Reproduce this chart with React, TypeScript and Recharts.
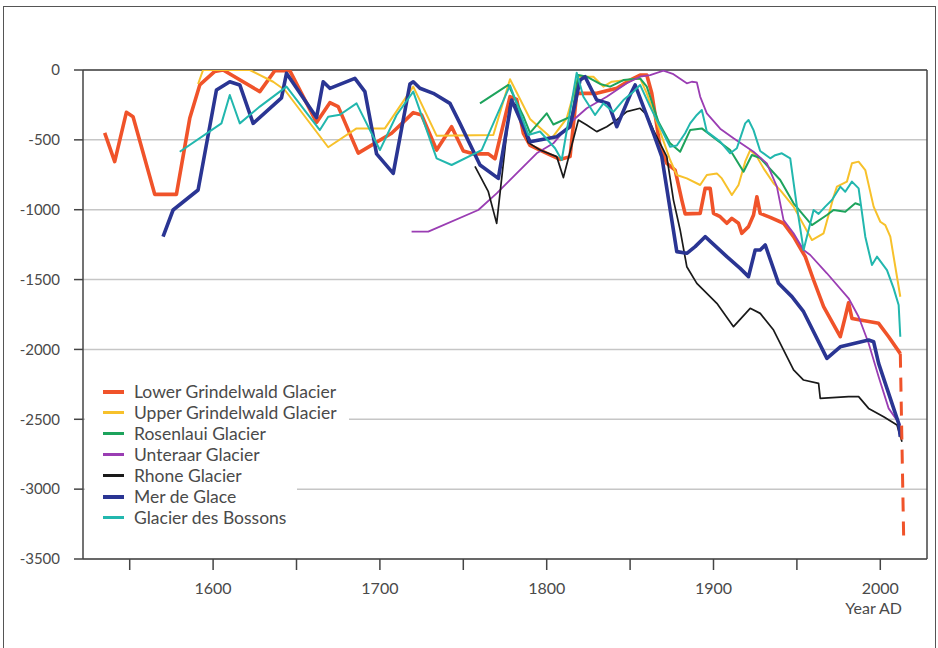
import React from 'react';
import { LineChart, Line, XAxis, YAxis, CartesianGrid, ReferenceLine } from 'recharts';

// glacier length change (m) relative to the maximum, by year AD
const lowerGrindelwald = [
  [1535, -450], [1541, -656], [1548, -303], [1552, -334], [1565, -890], [1578, -890], [1586, -346],
  [1592, -107], [1601, -10], [1606, 0], [1628, -155], [1637, -5], [1646, -5], [1662, -375],
  [1670, -234], [1675, -262], [1687, -595], [1707, -453], [1720, -305], [1725, -322], [1734, -573],
  [1743, -406], [1750, -580], [1756, -600], [1765, -600], [1769, -635], [1778, -191], [1782, -210],
  [1786, -453], [1790, -540], [1802, -608], [1808, -640], [1814, -620], [1818, -167], [1830, -167],
  [1842, -131], [1850, -72], [1856, -36], [1860, -36], [1863, -167], [1868, -549], [1872, -668],
  [1877, -716], [1881, -931], [1883, -1030], [1892, -1026], [1895, -847], [1898, -847], [1900, -1026],
  [1904, -1050], [1908, -1097], [1911, -1062], [1915, -1097], [1917, -1169], [1921, -1121],
  [1924, -1038], [1926, -907], [1928, -1026], [1934, -1055], [1942, -1097], [1948, -1193],
  [1955, -1336], [1960, -1503], [1966, -1694], [1976, -1909], [1979, -1766], [1981, -1666],
  [1983, -1778], [1999, -1813], [2005, -1909], [2012, -2030],
];
const lowerGrindelwaldProjection = [[2012, -2030], [2014, -3340]];

const upperGrindelwald = [
  [1591, -100], [1594, 0], [1622, 0], [1636, -84], [1643, -143], [1669, -553], [1686, -418],
  [1703, -418], [1720, -119], [1734, -470], [1768, -465], [1778, -66], [1790, -350], [1803, -489],
  [1812, -346], [1819, -48], [1828, -48], [1834, -119], [1839, -84], [1856, -60], [1860, -167],
  [1868, -441], [1874, -644], [1878, -752], [1884, -776], [1892, -823], [1896, -752], [1902, -740],
  [1905, -776], [1911, -895], [1915, -823], [1919, -656], [1922, -573], [1926, -620], [1930, -704],
  [1936, -811], [1940, -860], [1948, -978], [1959, -1217], [1966, -1169], [1972, -907], [1974, -835],
  [1980, -799], [1983, -668], [1987, -656], [1991, -716], [1996, -978], [2000, -1086], [2003, -1110],
  [2006, -1193], [2012, -1623],
];

const rosenlaui = [
  [1760, -239], [1777, -107], [1786, -330], [1790, -450], [1800, -310], [1804, -390], [1815, -330],
  [1819, -36], [1824, -48], [1832, -100], [1838, -119], [1846, -72], [1856, -60], [1860, -119],
  [1867, -370], [1874, -525], [1880, -585], [1886, -430], [1893, -418], [1902, -501], [1910, -573],
  [1918, -728], [1923, -608], [1928, -630], [1940, -787], [1948, -954], [1959, -1110], [1968, -1038],
  [1972, -1002], [1979, -1014], [1985, -954], [1988, -966],
];

const unteraar = [
  [1719, -1157], [1729, -1157], [1759, -1002], [1770, -883], [1794, -596], [1804, -525], [1816, -358],
  [1824, -274], [1836, -191], [1848, -95], [1856, -48], [1862, -36], [1870, -5], [1876, -30],
  [1884, -95], [1887, -84], [1890, -88], [1892, -190], [1896, -310], [1904, -420], [1912, -489],
  [1924, -585], [1932, -668], [1938, -835], [1942, -1074], [1948, -1169], [1954, -1288],
  [1958, -1324], [1968, -1455], [1981, -1634], [1987, -1766], [1993, -1956], [1999, -2195],
  [2005, -2422], [2012, -2541],
];

const rhone = [
  [1757, -690], [1765, -871], [1770, -1098], [1778, -240], [1782, -250], [1789, -520], [1796, -573],
  [1806, -620], [1810, -770], [1814, -585], [1819, -358], [1824, -394], [1830, -441], [1836, -406],
  [1842, -358], [1848, -298], [1856, -274], [1860, -322], [1864, -430], [1872, -620], [1876, -931],
  [1880, -1145], [1884, -1408], [1890, -1527], [1902, -1670], [1912, -1837], [1922, -1706],
  [1928, -1742], [1936, -1861], [1948, -2147], [1954, -2219], [1963, -2243], [1964, -2350],
  [1981, -2338], [1987, -2338], [1993, -2422], [2002, -2482], [2010, -2541], [2013, -2661],
];

const merDeGlace = [
  [1570, -1193], [1576, -1002], [1591, -859], [1602, -143], [1610, -84], [1616, -107], [1624, -382],
  [1641, -200], [1644, -24], [1662, -340], [1666, -84], [1670, -131], [1685, -60], [1691, -155],
  [1698, -600], [1708, -740], [1718, -100], [1720, -84], [1724, -131], [1732, -167], [1742, -239],
  [1748, -382], [1760, -680], [1771, -776], [1779, -215], [1790, -513], [1806, -477], [1814, -406],
  [1820, -72], [1823, -48], [1830, -215], [1837, -239], [1842, -406], [1850, -179], [1853, -107],
  [1864, -453], [1869, -620], [1878, -1300], [1884, -1312], [1889, -1264], [1895, -1193],
  [1908, -1336], [1916, -1420], [1921, -1479], [1925, -1288], [1928, -1288], [1931, -1252],
  [1939, -1527], [1947, -1622], [1954, -1730], [1968, -2064], [1976, -1981], [1993, -1933],
  [1996, -1945], [1999, -2100], [2004, -2279], [2011, -2529], [2012, -2625],
];

const bossons = [
  [1580, -585], [1605, -382], [1610, -179], [1616, -382], [1628, -262], [1644, -119], [1664, -430],
  [1669, -334], [1676, -320], [1686, -239], [1700, -573], [1710, -322], [1720, -155], [1734, -632],
  [1743, -680], [1761, -573], [1778, -110], [1789, -465], [1796, -440], [1805, -560], [1809, -644],
  [1818, -20], [1822, -191], [1829, -322], [1834, -239], [1840, -300], [1846, -215], [1852, -155],
  [1856, -107], [1862, -262], [1868, -406], [1874, -549], [1878, -540], [1883, -453], [1886, -382],
  [1890, -322], [1893, -286], [1896, -441], [1904, -513], [1910, -596], [1914, -560], [1919, -382],
  [1921, -358], [1924, -430], [1928, -580], [1934, -632], [1937, -610], [1941, -596], [1946, -632],
  [1950, -978], [1954, -1288], [1960, -1002], [1963, -1030], [1967, -978], [1971, -931], [1976, -835],
  [1979, -871], [1983, -799], [1987, -847], [1991, -1193], [1995, -1396], [1998, -1336],
  [2004, -1432], [2008, -1563], [2011, -1682], [2012, -1909],
];

const yTicks = [0, -500, -1000, -1500, -2000, -2500, -3000, -3500];
const xTicks = [1550, 1600, 1650, 1700, 1750, 1800, 1850, 1900, 1950, 2000];

const SERIES = [
  { name: 'Lower Grindelwald Glacier', points: lowerGrindelwald, color: '#f0532a', width: 3.6 },
  { name: 'Upper Grindelwald Glacier', points: upperGrindelwald, color: '#f7c12b', width: 2 },
  { name: 'Rosenlaui Glacier', points: rosenlaui, color: '#1da35c', width: 2 },
  { name: 'Unteraar Glacier', points: unteraar, color: '#9a3db3', width: 1.8 },
  { name: 'Rhone Glacier', points: rhone, color: '#1a1a1a', width: 1.7 },
  { name: 'Mer de Glace', points: merDeGlace, color: '#2a3593', width: 3.6 },
  { name: 'Glacier des Bossons', points: bossons, color: '#22b7ae', width: 2 },
];

const toRows = (pts: number[][]) => pts.map(([year, value]) => ({ year, value }));

const FONT = 'Lato, "Open Sans", sans-serif';
const TEXT = '#4a4a4a';
const AXIS = '#444';

const fmtY = (v: number) => String(v);
const fmtX = (v: number) => (v % 100 === 0 ? String(v) : '');

export default function App() {
  return (
    <div style={{ position: 'absolute', left: 0, top: 0, width: 938, height: 648, background: '#fff', fontFamily: FONT }}>
      {/* outer frame */}
      <div style={{ position: 'absolute', left: 3, top: 6, width: 931, height: 642, borderTop: '1.5px solid #555', borderLeft: '1.5px solid #555', borderRight: '1.5px solid #555' }} />

      <LineChart width={938} height={648} margin={{ top: 70, right: 11, bottom: 49, left: 23 }} style={{ position: 'absolute', left: 0, top: 0 }}>
        <CartesianGrid vertical={false} stroke="#c6c6c6" strokeWidth={1.5} />
        <XAxis
          type="number"
          dataKey="year"
          domain={[1522, 2028]}
          ticks={xTicks}
          tickFormatter={fmtX}
          height={40}
          axisLine={{ stroke: AXIS, strokeWidth: 1.5 }}
          tickLine={{ stroke: AXIS, strokeWidth: 1.5 }}
          tickSize={11}
          tickMargin={13}
          tick={{ fill: TEXT, fontSize: 16, fontFamily: FONT }}
          allowDataOverflow
        />
        <YAxis
          type="number"
          domain={[-3500, 0]}
          ticks={yTicks}
          tickFormatter={fmtY}
          width={60}
          axisLine={{ stroke: AXIS, strokeWidth: 1.5 }}
          tickLine={{ stroke: AXIS, strokeWidth: 1.5 }}
          tickSize={9}
          tickMargin={14}
          tick={{ fill: TEXT, fontSize: 15, fontFamily: FONT }}
          allowDataOverflow
        />
        <ReferenceLine y={0} stroke={AXIS} strokeWidth={1.5} />
        <ReferenceLine x={2028} stroke={AXIS} strokeWidth={1.5} />
        {SERIES.map((s) => (
          <Line
            key={s.name}
            data={toRows(s.points)}
            dataKey="value"
            name={s.name}
            type="linear"
            stroke={s.color}
            strokeWidth={s.width}
            strokeLinejoin="round"
            dot={false}
            activeDot={false}
            isAnimationActive={false}
          />
        ))}
        <Line
          data={toRows(lowerGrindelwaldProjection)}
          dataKey="value"
          name="Lower Grindelwald projection"
          type="linear"
          stroke="#f0532a"
          strokeWidth={3}
          strokeDasharray="14 10"
          dot={false}
          activeDot={false}
          legendType="none"
          isAnimationActive={false}
        />
      </LineChart>

      {/* legend */}
      <div style={{ position: 'absolute', left: 85, top: 381, width: 212, height: 150, background: '#fff' }}>
        {SERIES.map((s) => (
          <div key={s.name} style={{ display: 'flex', alignItems: 'center', width: 'fit-content', background: '#fff', height: 21, paddingRight: 12, fontSize: 17.5, color: TEXT, whiteSpace: 'nowrap' }}>
            <span style={{ display: 'block', width: 21, height: s.width > 3 ? 4 : 2.5, background: s.color, marginLeft: 18, marginRight: 10 }} />
            <span style={{ lineHeight: '21px' }}>{s.name}</span>
          </div>
        ))}
      </div>

      <div style={{ position: 'absolute', left: 800, width: 102, top: 598, textAlign: 'right', fontSize: 16, color: TEXT, lineHeight: '20px' }}>
        Year AD
      </div>
    </div>
  );
}
